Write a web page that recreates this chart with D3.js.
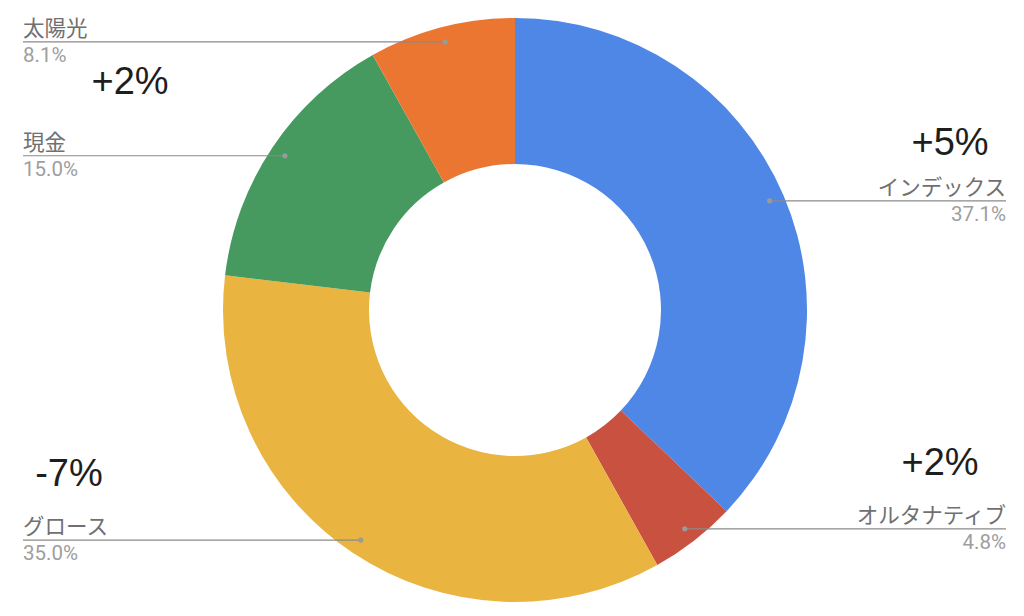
<!DOCTYPE html>
<html><head><meta charset="utf-8">
<script src="https://cdn.jsdelivr.net/npm/d3@7"></script>
<style>html,body{margin:0;padding:0;background:#fff;}svg{display:block;}</style>
</head><body>
<svg id="chart" width="1024" height="616"></svg>
<script>
// Data
const categories = ["インデックス", "オルタナティブ", "グロース", "現金", "太陽光"];
const values = [37.1, 4.8, 35.0, 15.0, 8.1];
const colors = ["#4F87E6", "#C9513F", "#E9B440", "#479A5F", "#EB7632"];
const changeLabels = ["+5%", "+2%", "-7%", "", "+2%"];

// Layout
const W = 1024, H = 616;
const cx = 515, cy = 310, R = 292, r0 = 146, rDot = 277;
const leftX = 23, rightX = 1006;
const changePos = [[950, 155], [940, 475], [69, 486], null, [130, 94]];

const svg = d3.select("#chart");
const g = svg.append("g").attr("transform", `translate(${cx},${cy})`);

const pie = d3.pie().sort(null).value(d => d.value);
const data = categories.map((c, i) => ({name: c, value: values[i], color: colors[i], change: changeLabels[i], idx: i}));
const arcs = pie(data);
const arc = d3.arc().innerRadius(r0).outerRadius(R);
const dotArc = d3.arc().innerRadius(rDot).outerRadius(rDot);

g.selectAll("path.slice").data(arcs).enter().append("path")
  .attr("class", "slice")
  .attr("d", arc)
  .attr("fill", d => d.data.color);

const total = d3.sum(values);
const fmt = d3.format(".1f");

arcs.forEach(a => {
  const [dx, dy] = dotArc.centroid(a);
  const px = cx + dx, py = cy + dy;
  const right = px > cx;
  const endX = right ? rightX : leftX;
  svg.append("line")
    .attr("x1", px).attr("y1", py).attr("x2", endX).attr("y2", py)
    .attr("stroke", "#8a8a8a").attr("stroke-width", 1.2);
  svg.append("circle").attr("cx", px).attr("cy", py).attr("r", 2.6).attr("fill", "#9a9a9a");
  svg.append("text")
    .attr("x", endX).attr("y", py - 6)
    .attr("text-anchor", right ? "end" : "start")
    .attr("font-family", "Roboto, 'Noto Sans CJK JP', sans-serif")
    .attr("font-size", 21.5)
    .attr("fill", "#707070")
    .text(a.data.name);
  svg.append("text")
    .attr("x", endX).attr("y", py + 20)
    .attr("text-anchor", right ? "end" : "start")
    .attr("font-family", "Roboto, sans-serif")
    .attr("font-size", 20.5)
    .attr("fill", "#9e9e9e")
    .text(fmt(a.data.value / total * 100) + "%");
});

data.forEach((d, i) => {
  if (!d.change || !changePos[i]) return;
  svg.append("text")
    .attr("x", changePos[i][0]).attr("y", changePos[i][1])
    .attr("text-anchor", "middle")
    .attr("font-family", "'Liberation Sans', Arial, sans-serif")
    .attr("font-size", 38)
    .attr("fill", "#1e1e1e")
    .text(d.change);
});
</script>
</body></html>
